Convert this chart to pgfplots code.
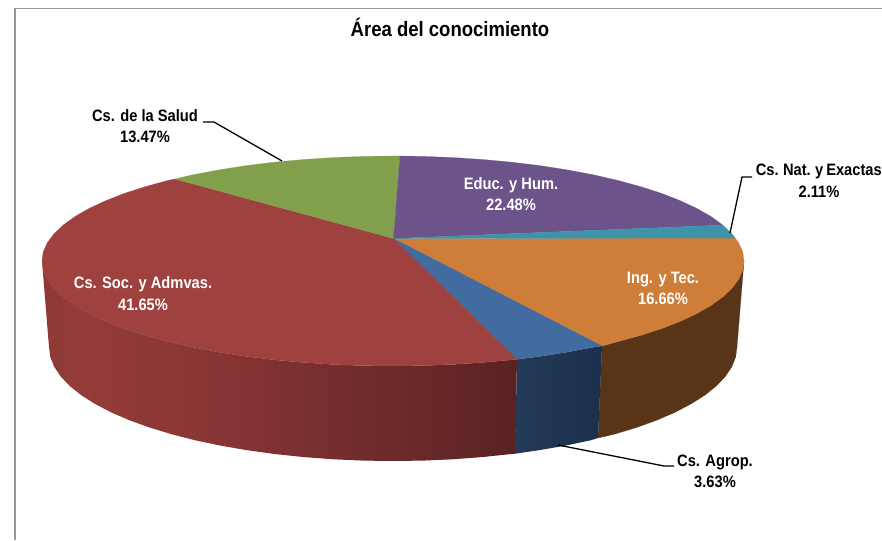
\documentclass[border=0pt]{standalone}
\usepackage{fontspec}
\setmainfont[FakeStretch=0.89]{Liberation Sans}
\usepackage{pgfplots}
\pgfplotsset{compat=1.18}
\tikzset{lbl/.style={font=\fontsize{16.5}{21.5}\selectfont\bfseries,align=center,inner sep=0pt}}
\definecolor{ra}{RGB}{141,57,54}
\definecolor{rb}{RGB}{148,60,57}
\definecolor{rc}{RGB}{141,56,54}
\definecolor{rd}{RGB}{133,52,51}
\definecolor{re}{RGB}{123,47,47}
\definecolor{rf}{RGB}{108,42,43}
\definecolor{rg}{RGB}{90,34,34}
\definecolor{ba}{RGB}{35,58,88}
\definecolor{bb}{RGB}{28,48,76}
\pgfdeclarehorizontalshading{redside}{100bp}{color(0bp)=(ra);color(25bp)=(ra);color(29bp)=(rb);color(38.5bp)=(rc);color(45.3bp)=(rd);color(52.2bp)=(re);color(62.7bp)=(rf);color(75bp)=(rg);color(100bp)=(rg)}
\newcommand\tp[4]{\addplot[draw={rgb,255:red,#1;green,#2;blue,#3},fill={rgb,255:red,#1;green,#2;blue,#3},line width=0.2pt] coordinates {#4} --cycle;}
\begin{document}
\begin{tikzpicture}
\begin{axis}[
  width=882pt,height=540pt,scale only axis,
  xmin=0,xmax=882,ymin=0,ymax=540,y dir=reverse,hide axis,
  clip=true,
]
% page background
\addplot[fill=white,draw=none] coordinates {(0,0)(882,0)(882,540)(0,540)} --cycle;
% frame
\addplot[draw={rgb,255:red,150;green,150;blue,150},line width=1.5pt] coordinates {(15,540)(15,8.5)(882,8.5)};
% side: Ing. y Tec.
\tp{88}{52}{24}{(744,261)(742.7,270.2)(738.7,279.2)(732,288.2)(722.8,296.9)(711.1,305.4)(697,313.5)(680.5,321.2)(661.9,328.5)(641.2,335.2)(618.6,341.4)(602,346)(598,438)(614.1,434.3)(636.2,427.6)(656.5,420.3)(674.8,412.4)(690.9,404)(704.8,395.2)(716.3,386)(725.3,376.5)(731.8,366.8)(735.7,356.9)(737,347)}
% side: Cs. Agrop.
\addplot[left color=ba,right color=bb,draw=none] coordinates {(517,359.3)(541.3,356.2)(568.5,351.9)(594.3,347)(602,346)(598,438)(590.3,440.4)(565,445.7)(538.4,450.3)(515,453.7)} --cycle;
% side: Cs. Soc. y Admvas.
\addplot[shading=redside,draw=none] coordinates {(42,261)(43.3,270.2)(47.3,279.2)(54,288.2)(63.2,296.9)(74.9,305.4)(89,313.5)(105.5,321.2)(124.1,328.5)(144.8,335.2)(167.4,341.4)(191.7,347)(217.5,351.9)(244.7,356.2)(273,359.7)(302.2,362.4)(332.1,364.4)(362.4,365.6)(393,366)(423.6,365.6)(453.9,364.4)(483.8,362.4)(513,359.7)(517,359.3)(515,453.7)(510.6,454.1)(482,457.1)(452.7,459.3)(423,460.6)(393,461)(363,460.6)(333.3,459.3)(304,457.1)(275.4,454.1)(247.6,450.3)(221,445.7)(195.7,440.4)(171.9,434.3)(149.8,427.6)(129.5,420.3)(111.2,412.4)(95.1,404)(81.2,395.2)(69.7,386)(60.7,376.5)(54.2,366.8)(50.3,356.9)(49,347)} --cycle;
% top: Ing. y Tec.
\tp{207}{126}{58}{(393.5,238.5)(735,238)(738.7,242.8)(742.7,251.8)(744,261)(742.7,270.2)(738.7,279.2)(732,288.2)(722.8,296.9)(711.1,305.4)(697,313.5)(680.5,321.2)(661.9,328.5)(641.2,335.2)(618.6,341.4)(602,346)}
% top: Cs. Agrop.
\tp{66}{108}{160}{(393.5,238.5)(602,346)(594.3,347)(568.5,351.9)(541.3,356.2)(517,359.3)}
% top: Cs. Soc. y Admvas.
\tp{159}{65}{62}{(393.5,238.5)(517,359.3)(513,359.7)(483.8,362.4)(453.9,364.4)(423.6,365.6)(393,366)(362.4,365.6)(332.1,364.4)(302.2,362.4)(273,359.7)(244.7,356.2)(217.5,351.9)(191.7,347)(167.4,341.4)(144.8,335.2)(124.1,328.5)(105.5,321.2)(89,313.5)(74.9,305.4)(63.2,296.9)(54,288.2)(47.3,279.2)(43.3,270.2)(42,261)(43.3,251.8)(47.3,242.8)(54,233.8)(63.2,225.1)(74.9,216.6)(89,208.5)(105.5,200.8)(124.1,193.5)(144.8,186.8)(167.4,180.6)(175,179)}
% top: Cs. de la Salud
\tp{130}{160}{75}{(393.5,238.5)(175,179)(191.7,175)(217.5,170.1)(244.7,165.8)(273,162.3)(302.2,159.6)(332.1,157.6)(362.4,156.4)(393,156)(400,156)}
% top: Educ. y Hum.
\tp{108}{83}{137}{(393.5,238.5)(400,156)(423.6,156.4)(453.9,157.6)(483.8,159.6)(513,162.3)(541.3,165.8)(568.5,170.1)(594.3,175)(618.6,180.6)(641.2,186.8)(661.9,193.5)(680.5,200.8)(697,208.5)(711.1,216.6)(722.8,225.1)}
% top: Cs. Nat. y Exactas
\tp{61}{147}{169}{(393.5,238.5)(722.8,225.1)(732,233.8)(735,238)}
% leaders
\addplot[black,line width=1.3pt] coordinates {(203,122)(214,122)(282,161)};
\addplot[black,line width=1.3pt] coordinates {(752,177)(742,177)(730,233)};
\addplot[black,line width=1.3pt] coordinates {(558,445)(664,466)(674,466)};
% labels
\node[lbl,text=black] at (axis cs:450,27) {\fontsize{20.8}{24}\selectfont Área del conocimiento};
\node[lbl,text=black] at (axis cs:145,126) {Cs. de la Salud\\13.47\%};
\node[lbl,text=black,anchor=east] at (axis cs:882,171) {\spaceskip=3pt Cs. Nat. y Exactas};
\node[lbl,text=black] at (axis cs:819,192) {2.11\%};
\node[lbl,text=white] at (axis cs:511,194) {Educ. y Hum.\\22.48\%};
\node[lbl,text=white] at (axis cs:663,288.5) {Ing. y Tec.\\16.66\%};
\node[lbl,text=white] at (axis cs:143,293.5) {Cs. Soc. y Admvas.\\41.65\%};
\node[lbl,text=black] at (axis cs:715,471.5) {Cs. Agrop.\\3.63\%};
\end{axis}
\end{tikzpicture}
\end{document}
